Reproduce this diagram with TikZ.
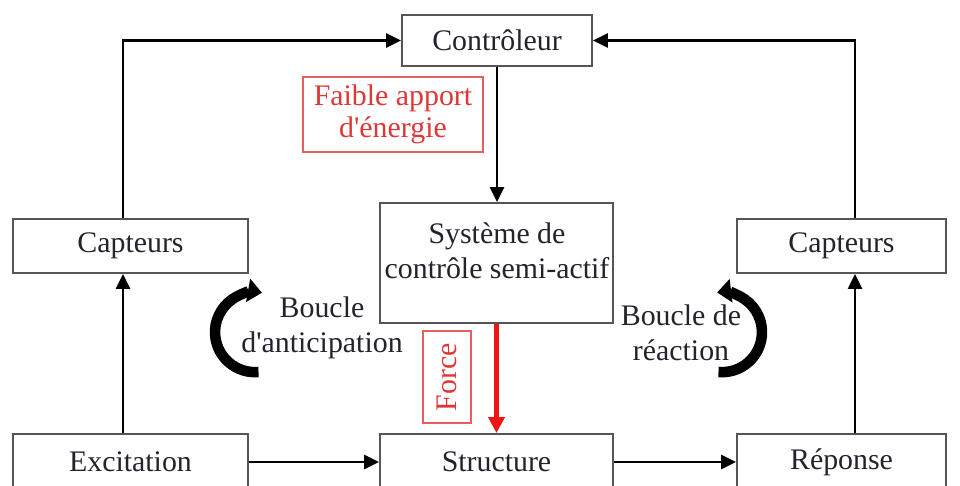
\documentclass[tikz,border=0pt]{standalone}
\usepackage{fontspec}
\setmainfont{Liberation Serif}
\usetikzlibrary{arrows.meta, positioning}
\usepackage{xcolor}
\definecolor{boxgray}{RGB}{85,85,85}
\definecolor{inkdark}{RGB}{35,35,45}
\definecolor{softred}{RGB}{222,55,55}
\definecolor{forcered}{RGB}{240,20,20}

\begin{document}
\begin{tikzpicture}[x=0.02cm, y=0.02cm,
    every node/.style={font=\fontsize{17}{20}\selectfont, text=inkdark},
    box/.style={draw=boxgray, line width=1.1pt, rectangle},
    redbox/.style={draw=softred!80, line width=0.9pt, text=softred},
    link/.style={-{Triangle[length=8.5pt, width=8pt]}, line width=1.2pt},
    forcelink/.style={-{Triangle[length=9pt, width=9pt]}, line width=2.4pt, draw=forcered},
    loopmark/.style={-{Triangle[length=8pt, width=13pt]}, line width=6pt}]
    \useasboundingbox (0,0) rectangle (960,-486);
    \clip (0,0) rectangle (960,-486);

    % boxes
    \node[box, minimum width=3.8cm, minimum height=1.02cm] (ctrl) at (497,-40.5) {Contrôleur};
    \node[redbox, minimum width=3.6cm, minimum height=1.5cm, align=center,
          font=\fontsize{17}{18}\selectfont] (energy) at (393,-114.5) {Faible apport\\d\textquotesingle énergie};
    \node[box, minimum width=4.66cm, minimum height=2.4cm] (sys) at (496.5,-263) {};
    \node[align=center] (systxt) at (497,-251) {Système de\\contrôle semi-actif};
    \node[box, minimum width=4.7cm, minimum height=1.08cm] (capL) at (130.5,-246) {Capteurs};
    \node[box, minimum width=4.18cm, minimum height=1.08cm] (capR) at (841.5,-246) {Capteurs};
    \node[box, minimum width=4.7cm, minimum height=1.12cm] (exc) at (130.5,-462) {Excitation};
    \node[box, minimum width=4.66cm, minimum height=1.12cm] (struct) at (496.5,-462) {Structure};
    \node[box, minimum width=4.18cm, minimum height=1.12cm] (resp) at (841.5,-462) {Réponse};
    \node[redbox, rotate=90, minimum width=1.84cm, minimum height=0.96cm] (force) at (447,-377) {Force};

    % loop labels
    \node[align=center] (antic) at (322,-328) {Boucle\\d\textquotesingle anticipation};
    \node[align=center] (react) at (681,-333) {Boucle de\\réaction};

    % connectors
    \coordinate (lx) at (123,0);
    \coordinate (rx) at (855,0);
    \draw[link] (exc.north -| lx) -- (capL.south -| lx);
    \draw[link] (capL.north -| lx) |- (ctrl.west);
    \draw[link] (resp.north -| rx) -- (capR.south -| rx);
    \draw[link] (capR.north -| rx) |- (ctrl.east);
    \draw[link] (ctrl.south) -- (ctrl.south |- sys.north);
    \draw[link] (exc.east) -- (struct.west);
    \draw[link] (struct.east) -- (resp.west);
    \draw[forcelink] (sys.south) -- (struct.north);

    % curved loop arrows
    \draw[loopmark] (258.5,-372) arc[start angle=275, end angle=80, radius=0.8cm];
    \draw[loopmark] (718.5,-372) arc[start angle=-95, end angle=97, radius=0.8cm];
\end{tikzpicture}
\end{document}
